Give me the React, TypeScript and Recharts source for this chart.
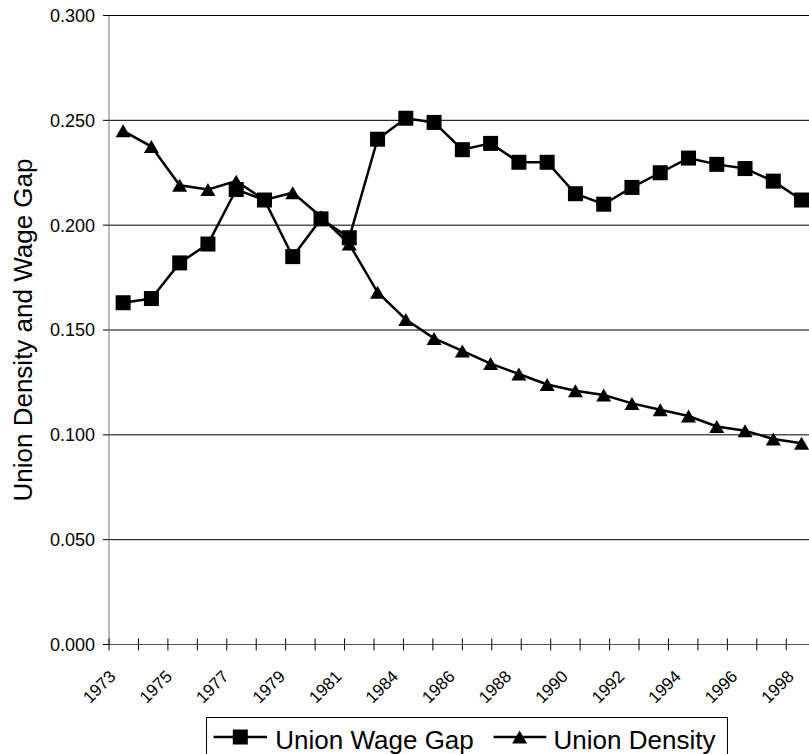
import React from 'react';
import { ComposedChart, Line, XAxis, YAxis, CartesianGrid, Legend, Label } from 'recharts';

const years = ['1973', '1974', '1975', '1976', '1977', '1978', '1979', '1980', '1981', '1983', '1984', '1985', '1986', '1987', '1988', '1989', '1990', '1991', '1992', '1993', '1994', '1995', '1996', '1997', '1998'];
const unionWageGap = [0.163, 0.165, 0.182, 0.191, 0.217, 0.212, 0.185, 0.203, 0.194, 0.241, 0.251, 0.249, 0.236, 0.239, 0.230, 0.230, 0.215, 0.210, 0.218, 0.225, 0.232, 0.229, 0.227, 0.221, 0.212];
const unionDensity = [0.245, 0.2375, 0.219, 0.217, 0.221, 0.212, 0.2155, 0.204, 0.191, 0.168, 0.155, 0.146, 0.140, 0.134, 0.129, 0.124, 0.121, 0.119, 0.115, 0.112, 0.109, 0.104, 0.102, 0.098, 0.096];
const yTicks = [0, 0.05, 0.1, 0.15, 0.2, 0.25, 0.3];
const seriesNames = ['Union Wage Gap', 'Union Density'];
const yAxisTitle = 'Union Density and Wage Gap';

const boundaryTicks = years.map((_, i) => i).concat([years.length]);
const data = years.map((year, i) => ({ year, gap: unionWageGap[i], density: unionDensity[i] }));

const FONT = '"Liberation Sans", Arial, Helvetica, sans-serif';
const AXIS_H = 0.01;

const SquareDot = (props: any) => {
  const { cx, cy, index } = props;
  if (cx == null || cy == null) return <g key={index} />;
  return <rect key={index} x={cx - 7.5} y={cy - 7.5} width={15} height={15} fill="#000" />;
};

const TriangleDot = (props: any) => {
  const { cx, cy, index } = props;
  if (cx == null || cy == null) return <g key={index} />;
  return (
    <polygon
      key={index}
      points={`${cx},${cy - 6.5} ${cx + 7.5},${cy + 6.5} ${cx - 7.5},${cy + 6.5}`}
      fill="#000"
    />
  );
};

const YearTick = (props: any) => {
  const { x, y, payload } = props;
  const ax = x - 6.5;
  const ay = y + 33;
  return (
    <g transform={`translate(${ax} ${ay}) rotate(-45)`}>
      <text x={0} y={0} textAnchor="end" style={{ fontSize: '17px', fontFamily: FONT }} fill="#000">
        {payload.value}
      </text>
    </g>
  );
};

const CrossTick = (props: any) => {
  const { x, y } = props;
  return <line x1={x} x2={x} y1={y - 6} y2={y + 6} stroke="#000" strokeWidth={1} />;
};

const YTitle = (props: any) => {
  const vb = props.viewBox || { x: 0, y: 15.5, width: 109, height: 629 };
  const x = vb.x + 32;
  const y = vb.y + vb.height / 2;
  return (
    <text
      x={x}
      y={y}
      transform={`rotate(-90 ${x} ${y})`}
      textAnchor="middle"
      fontSize={26}
      fontFamily={FONT}
      fill="#000"
    >
      {yAxisTitle}
    </text>
  );
};

const LegendBox = () => (
  <svg width={523} height={44} style={{ display: 'block' }}>
    <rect x={0.5} y={0.5} width={521} height={50} fill="#fff" stroke="#000" strokeWidth={1} />
    <line x1={7.6} x2={61} y1={20} y2={20} stroke="#000" strokeWidth={2.5} />
    <rect x={34.3 - 7.5} y={20 - 7.5} width={15} height={15} fill="#000" />
    <text x={69.3} y={31.6} fontSize={26} fontFamily={FONT} fill="#000">{seriesNames[0]}</text>
    <line x1={287.6} x2={340.3} y1={20} y2={20} stroke="#000" strokeWidth={2.5} />
    <polygon points={`313.6,13.5 321.1,26.5 306.1,26.5`} fill="#000" />
    <text x={347.6} y={31.6} fontSize={26} fontFamily={FONT} fill="#000">{seriesNames[1]}</text>
  </svg>
);

export default function App() {
  return (
    <div style={{ position: 'absolute', left: 0, top: 0, width: 809, height: 754, overflow: 'hidden', background: '#fff' }}>
      <ComposedChart
        width={830}
        height={754}
        data={data}
        margin={{ top: 15.5, right: 14.3, bottom: 109.5 - 2 * AXIS_H, left: 0 }}
      >
        <CartesianGrid xAxisId="cat" vertical={false} stroke="#000" strokeWidth={1} />
        <XAxis
          xAxisId="cat"
          dataKey="year"
          type="category"
          scale="band"
          interval={1}
          height={AXIS_H}
          axisLine={false}
          tickLine={false}
          tickSize={0}
          tickMargin={0}
          tick={<YearTick />}
        />
        <XAxis
          xAxisId="grid"
          type="number"
          domain={[0, years.length]}
          ticks={boundaryTicks}
          interval={0}
          allowDataOverflow
          height={AXIS_H}
          axisLine={{ stroke: '#555', strokeWidth: 1 }}
          tickLine={false}
          tickSize={0}
          tickMargin={0}
          tick={<CrossTick />}
        />
        <YAxis
          domain={[0, 0.3]}
          ticks={yTicks}
          interval={0}
          width={109}
          tickFormatter={(v: number) => v.toFixed(3)}
          tickSize={6}
          tickMargin={8}
          axisLine={{ stroke: '#777', strokeWidth: 1 }}
          tickLine={{ stroke: '#000' }}
          tick={{ fill: '#000', fontSize: 18, fontFamily: FONT }}
        >
          <Label content={<YTitle />} />
        </YAxis>
        <Line
          xAxisId="cat"
          dataKey="gap"
          name={seriesNames[0]}
          stroke="#000"
          strokeWidth={2.5}
          dot={<SquareDot />}
          activeDot={false}
          isAnimationActive={false}
        />
        <Line
          xAxisId="cat"
          dataKey="density"
          name={seriesNames[1]}
          stroke="#000"
          strokeWidth={2.5}
          dot={<TriangleDot />}
          activeDot={false}
          isAnimationActive={false}
        />
        <Legend
          layout="horizontal"
          verticalAlign="middle"
          align="center"
          wrapperStyle={{ top: 716.5, left: 205.5, width: 523, height: 44 }}
          content={<LegendBox />}
        />
      </ComposedChart>
    </div>
  );
}
